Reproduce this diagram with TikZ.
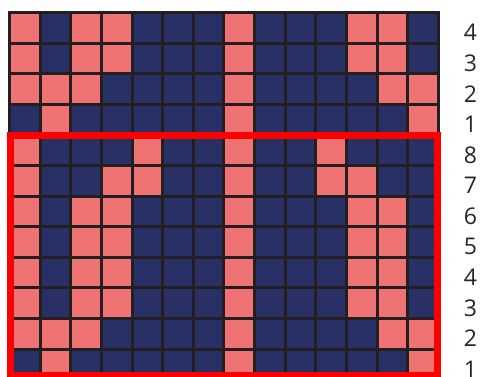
\documentclass[tikz,border=0pt]{standalone}
\usepackage{fontspec}
\setsansfont{Open Sans}
\definecolor{salmon}{HTML}{EF7373}
\definecolor{navy}{HTML}{283066}
\definecolor{gridline}{HTML}{231F20}
\definecolor{frame}{HTML}{FF0000}
\tikzset{
  cell/.style={draw=gridline,line width=3pt},
  redframe/.style={draw=frame,line width=7pt},
  rowlabel/.style={font=\sffamily\fontsize{23}{23}\selectfont,inner sep=0pt,text=black!85}
}
\newcommand{\cellw}{30.64}
\newcommand{\cellh}{30.6}

\begin{document}
\begin{tikzpicture}[x=1pt,y=-1pt]
  \useasboundingbox (0,0) rectangle (480,377);
  \clip (0,0) rectangle (480,377);
  % pattern rows, top to bottom (1 = salmon, 0 = navy)
  \foreach \pat [count=\r from 0] in {
      {1,0,1,1,0,0,0,1,0,0,0,1,1,0},
      {1,0,1,1,0,0,0,1,0,0,0,1,1,0},
      {1,1,1,0,0,0,0,1,0,0,0,0,1,1},
      {0,1,0,0,0,0,0,1,0,0,0,0,0,1},
      {1,0,0,0,1,0,0,1,0,0,1,0,0,0},
      {1,0,0,1,1,0,0,1,0,0,1,1,0,0},
      {1,0,1,1,0,0,0,1,0,0,0,1,1,0},
      {1,0,1,1,0,0,0,1,0,0,0,1,1,0},
      {1,0,1,1,0,0,0,1,0,0,0,1,1,0},
      {1,0,1,1,0,0,0,1,0,0,0,1,1,0},
      {1,1,1,0,0,0,0,1,0,0,0,0,1,1},
      {0,1,0,0,0,0,0,1,0,0,0,0,0,1}}
    \foreach \v [count=\c from 0] in \pat {
      \ifnum\v=1 \def\cc{salmon}\else\def\cc{navy}\fi
      \filldraw[cell,fill=\cc] (9.5+\c*\cellw,12.5+\r*\cellh)
        rectangle ++(\cellw,\cellh);
    };
  \draw[cell] (9.5,12.5) rectangle (9.5+14*\cellw,12.5+12*\cellh);
  % highlighted block
  \draw[redframe] (10.5,135.5) rectangle (437,375);
  % row numbers
  \foreach \n [count=\r from 0] in {4,3,2,1,8,7,6,5,4,3,2,1}
    \node[rowlabel] (lab\r) at (470.5,32.5+\r*\cellh) {\n};
\end{tikzpicture}
\end{document}
